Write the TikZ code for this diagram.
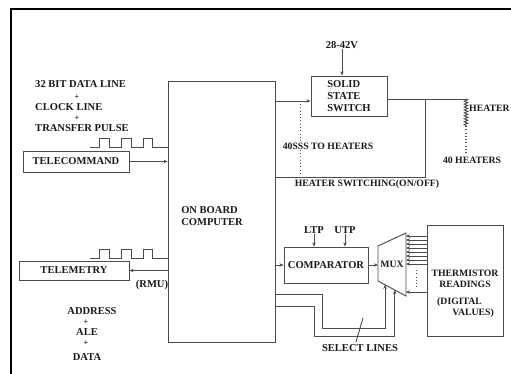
\documentclass[tikz,border=0pt]{standalone}
\usepackage{fontspec}
\setmainfont{Liberation Serif}
\usetikzlibrary{arrows.meta, calc, decorations.pathmorphing}

\begin{document}
\begin{tikzpicture}[
  x=0.03cm, y=-0.03cm, >={Stealth[length=3.5pt,width=3pt]},
  every node/.style={font=\bfseries\fontsize{9}{10}\selectfont, text=black!90},
  txt/.style={inner sep=0pt},
  smalltxt/.style={inner sep=0pt, font=\bfseries\fontsize{8.3}{9}\selectfont},
  plus/.style={inner sep=0pt, font=\bfseries\fontsize{7}{7}\selectfont},
  blk/.style={draw=black!70, line width=0.8pt, inner sep=1pt, align=left},
  wire/.style={draw=black!70, line width=0.8pt}
]
  \useasboundingbox (0,0) rectangle (511,374);
  \draw[line width=1.6pt] (11,374) -- (11,9) -- (511,9);

  % blocks
  \node[blk, minimum width=3.21cm, minimum height=7.83cm] (obc) at (221.5,211.5) {};
  \node[txt, align=left] (obclbl) at (212,216) {ON BOARD\\COMPUTER};
  \node[blk, minimum width=3.18cm, minimum height=0.63cm] (tc) at (76,161.5) {TELECOMMAND};
  \node[blk, minimum width=3.3cm, minimum height=0.57cm] (tm) at (74,270.5) {TELEMETRY};
  \node[blk, minimum width=2.28cm, minimum height=1.2cm] (ssw) at (349,96) {SOLID\\STATE\\SWITCH};
  \node[blk, minimum width=2.52cm, minimum height=1.08cm] (cmp) at (326,265) {COMPARATOR};
  \node[blk, minimum width=2.28cm, minimum height=3.33cm] (thr) at (465,280.5) {};

  % mux
  \coordinate (mA) at (378,246);
  \coordinate (mB) at (406,233);
  \coordinate (mC) at (406,296);
  \coordinate (mD) at (378,281);
  \draw[wire] (mA) -- (mB) -- (mC) -- (mD) -- cycle;
  \node[smalltxt] (mux) at (392,264) {MUX};

  % thermistor labels
  \node[smalltxt] (thr1) at (465,273) {THERMISTOR};
  \node[smalltxt] (thr2) at (465,284) {READINGS};
  \node[smalltxt, anchor=west] (thr3) at (437,302) {(DIGITAL};
  \node[smalltxt, anchor=east] (thr4) at (494,313) {VALUES)};

  % input / output labels
  \node[txt, anchor=west] (dline) at (35,84) {32 BIT DATA LINE};
  \node[plus] (plus1) at (77,97) {+};
  \node[txt, anchor=west] (cline) at (35,107) {CLOCK LINE};
  \node[plus] (plus2) at (77,118) {+};
  \node[txt, anchor=west] (tpulse) at (35,128) {TRANSFER PULSE};
  \node[txt] (addr) at (92,311) {ADDRESS};
  \node[plus] (plus3) at (86,322) {+};
  \node[txt] (ale) at (87,332) {ALE};
  \node[plus] (plus4) at (86,343) {+};
  \node[txt] (data) at (87,357) {DATA};
  \node[txt] (rmu) at (152,285) {(RMU)};

  % pulse trains
  \foreach \py in {147,258}
    \draw[wire] (90,\py) -- ++(9,0) -- ++(0,-9) -- ++(10,0) -- ++(0,9) -- ++(12,0) -- ++(0,-9)
      -- ++(10,0) -- ++(0,9) -- ++(12,0) -- ++(0,-9) -- ++(9,0) -- ++(0,9) -- (obc.west |- 0,\py);

  \draw[wire,->] (tc.east) -- (obc.west |- tc.east);
  \draw[wire,->] (obc.west |- tm.east) -- (tm.east);

  % heater switching
  \node[txt] (vin) at (342,45) {28-42V};
  \draw[wire,->] (vin.south) -- (vin.south |- ssw.north);
  \draw[wire,->] (obc.east |- 0,101) -- (ssw.west |- 0,101);
  \coordinate (fbk) at (425,99);
  \coordinate (htop) at (466,99);
  \coordinate (hbot) at (466,126);
  \draw[wire] (ssw.east |- htop) -- (htop);
  \draw[wire] (fbk) |- (obc.east |- 0,177);
  \draw[wire, decorate, decoration={zigzag, amplitude=1.5pt, segment length=2.5pt}] (htop) -- (hbot);
  \draw[wire, dotted, line width=1pt] (hbot) -- (466,153);
  \node[smalltxt, anchor=west] (htr) at (469,108) {HEATER};
  \node[smalltxt] (htrs) at (472,160) {40 HEATERS};
  \draw[wire, dotted] (300,104) -- (300,175);
  \node[smalltxt, fill=white, inner sep=1pt] (sss) at (328,146) {40SSS TO HEATERS};
  \node[smalltxt] (hsw) at (367,184) {HEATER SWITCHING(ON/OFF)};

  % comparator and mux
  \draw[wire,->] (obc.east |- cmp.west) -- (cmp.west);
  \draw[wire,->] (cmp.east) -- (mA |- cmp.east);
  \node[txt] (ltp) at (314,230) {LTP};
  \node[txt] (utp) at (345,230) {UTP};
  \draw[wire,->] (ltp.south) -- (ltp.south |- cmp.north);
  \draw[wire,->] (utp.south) -- (utp.south |- cmp.north);
  \foreach \ty in {236,240,...,264}
    \draw[wire,->] (thr.west |- 0,\ty) -- (mB |- 0,\ty);
  \draw[wire, dotted] (416,270) -- (416,289);
  \draw[wire,->] (thr.west |- 0,292) -- (mC |- 0,292);

  % select lines
  \coordinate (sel1) at ($(mD)!0.25!(mC)$);
  \coordinate (sel2) at ($(mD)!0.6!(mC)$);
  \draw[wire,->] (obc.east |- 0,294) -| (322,328) -| (sel1);
  \draw[wire,->] (obc.east |- 0,306) -| (314,336) -| (sel2);
  \draw[wire] (363,318) -- (356,342);
  \node[txt] (sel) at (360,348) {SELECT LINES};
\end{tikzpicture}
\end{document}
